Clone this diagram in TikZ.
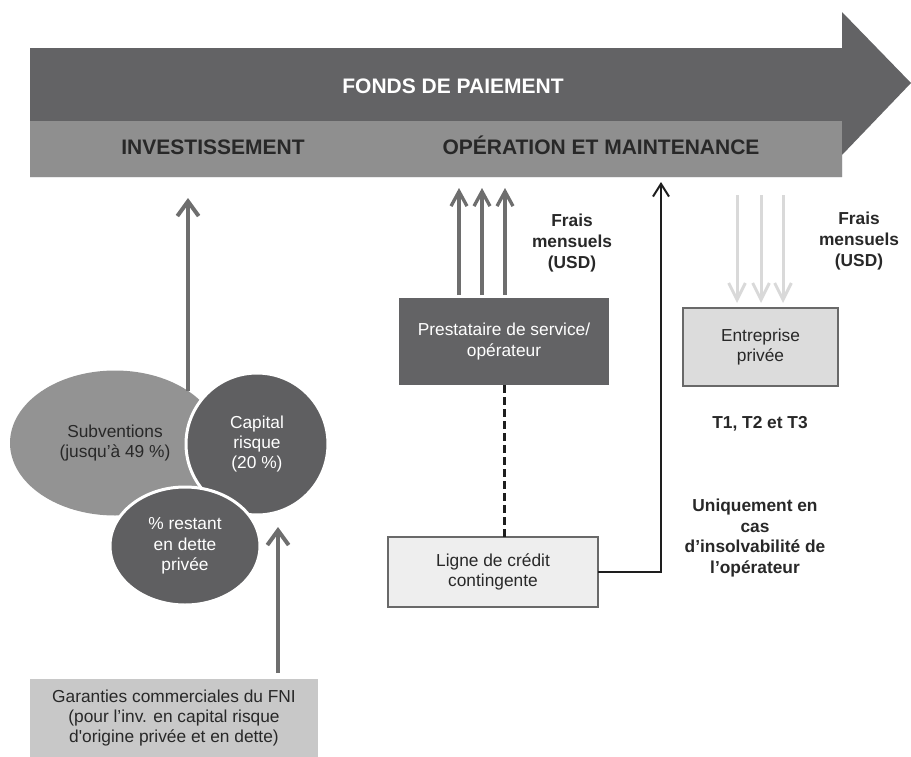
\documentclass[tikz,border=0pt]{standalone}
\usepackage{fontspec}
\setmainfont{Liberation Sans}
\usetikzlibrary{arrows.meta,shapes.geometric}
\definecolor{bandDark}{RGB}{99,99,101}
\definecolor{bandLight}{RGB}{143,143,143}
\definecolor{bubLight}{RGB}{147,147,147}
\definecolor{bubDark}{RGB}{95,95,97}
\definecolor{txtDark}{RGB}{40,40,40}
\definecolor{arrGray}{RGB}{110,110,110}
\definecolor{arrLight}{RGB}{217,217,217}
\definecolor{boxLight}{RGB}{238,238,238}
\definecolor{boxMid}{RGB}{220,220,220}
\definecolor{boxGar}{RGB}{200,200,200}
\definecolor{edgeGray}{RGB}{105,105,105}
\definecolor{lineBlack}{RGB}{30,30,30}
\begin{document}
\begin{tikzpicture}[x=0.75pt,y=-0.75pt,
  bandtext/.style={font=\fontsize{15.75pt}{18pt}\selectfont\bfseries, inner sep=0, anchor=base},
  bodytext/.style={font=\fontsize{13pt}{15.3pt}\selectfont, align=center, inner sep=0},
  lbltext/.style={font=\fontsize{13pt}{15.5pt}\selectfont\bfseries, align=center, inner sep=0, text=txtDark},
  boxnode/.style={bodytext, rectangle, outer sep=0},
  grayarrow/.style={draw=arrGray, line width=3pt, -{Straight Barb[length=11pt,width=16pt]}},
  midarrow/.style={draw=arrGray, line width=2.5pt, -{Straight Barb[length=11pt,width=12pt]}},
  lightarrow/.style={draw=arrLight, line width=2.25pt, -{Straight Barb[length=12.5pt,width=12.5pt]}},
  blackarrow/.style={draw=lineBlack, line width=1.5pt, -{Straight Barb[length=9.5pt,width=12pt]}},
  dashline/.style={draw=lineBlack, line width=2.25pt, dash pattern=on 6pt off 3pt}
]
\useasboundingbox (0,0) rectangle (911,757);
% big arrow
\fill[bandDark] (30,48) -- (842,48) -- (842,12) -- (911,83) -- (842,155) -- (842,177) -- (30,177) -- cycle;
\fill[bandLight] (30,121) rectangle (842,177);
\node[bandtext, text=white] (fonds) at (453,93) {FONDS DE PAIEMENT};
\node[bandtext, text=txtDark] (inv) at (213,154) {INVESTISSEMENT};
\node[bandtext, text=txtDark] (om) at (601,154) {OPÉRATION ET MAINTENANCE};
% bubbles
\node[ellipse, fill=bubLight, minimum width=157.5pt, minimum height=108.75pt, inner sep=0, bodytext, text=txtDark] (sub) at (115,443) {Subventions\\(jusqu’à 49~\%)};
\node[circle, fill=bubDark, draw=white, line width=2.25pt, minimum size=106.5pt, inner sep=0, bodytext, text=white] (cap) at (257,444) {Capital\\risque\\(20~\%)};
\node[ellipse, fill=bubDark, draw=white, line width=2.25pt, minimum width=112.5pt, minimum height=88.5pt, inner sep=0, bodytext, text=white] (rest) at (185,546) {\%~restant\\en dette\\privée};
% boxes
\node[boxnode, fill=bandDark, text=white, minimum width=157.5pt, minimum height=65.25pt] (prest) at (504,341.5) {Prestataire de service/\\opérateur};
\node[boxnode, fill=boxLight, draw=edgeGray, line width=1.1pt, text=txtDark, minimum width=157.5pt, minimum height=52.5pt] (ligne) at (493,572) {Ligne de crédit\\contingente};
\node[boxnode, fill=boxMid, draw=edgeGray, line width=1.1pt, text=txtDark, minimum width=116.25pt, minimum height=58.5pt] (ent) at (760.5,347) {Entreprise\\privée};
\node[boxnode, fill=boxGar, text=txtDark, minimum width=216pt, minimum height=58.5pt] (gar) at (174,718) {Garanties commerciales du FNI\\(pour l’inv. en capital risque\\d{\XeTeXglyph\XeTeXcharglyph"27\relax}origine privée et en dette)};
% labels
\node[lbltext] (frais1) at (572,243) {Frais\\mensuels\\(USD)};
\node[lbltext] (frais2) at (859,241) {Frais\\mensuels\\(USD)};
\node[lbltext] (tlab) at (760,424) {T1, T2 et T3};
\node[lbltext] (uniq) at (755,538) {Uniquement en\\cas\\d’insolvabilité de\\l’opérateur};
% coordinates for free arrow ends
\coordinate (invtip) at (188,198);
\coordinate (gtip) at (278,527);
\coordinate (fa1) at (459,188);
\coordinate (fa2) at (482,188);
\coordinate (fa3) at (505,188);
\coordinate (la1) at (737,195);
\coordinate (la2) at (761,195);
\coordinate (la3) at (783,195);
\coordinate (blk) at (661,182);
% connectors
\draw[grayarrow] (invtip |- sub.35.5) -- (invtip);
\draw[grayarrow, shorten <=4.5pt] (gtip |- gar.north) -- (gtip);
\draw[midarrow, shorten <=2.25pt] (fa1 |- prest.north) -- (fa1);
\draw[midarrow, shorten <=2.25pt] (fa2 |- prest.north) -- (fa2);
\draw[midarrow, shorten <=2.25pt] (fa3 |- prest.north) -- (fa3);
\draw[lightarrow, shorten >=3.75pt] (la1) -- (la1 |- ent.north);
\draw[lightarrow, shorten >=3.75pt] (la2) -- (la2 |- ent.north);
\draw[lightarrow, shorten >=3.75pt] (la3) -- (la3 |- ent.north);
\draw[dashline] (prest.south) -- (prest.south |- ligne.north);
\draw[blackarrow] (ligne.east) -| (blk);
\end{tikzpicture}
\end{document}
